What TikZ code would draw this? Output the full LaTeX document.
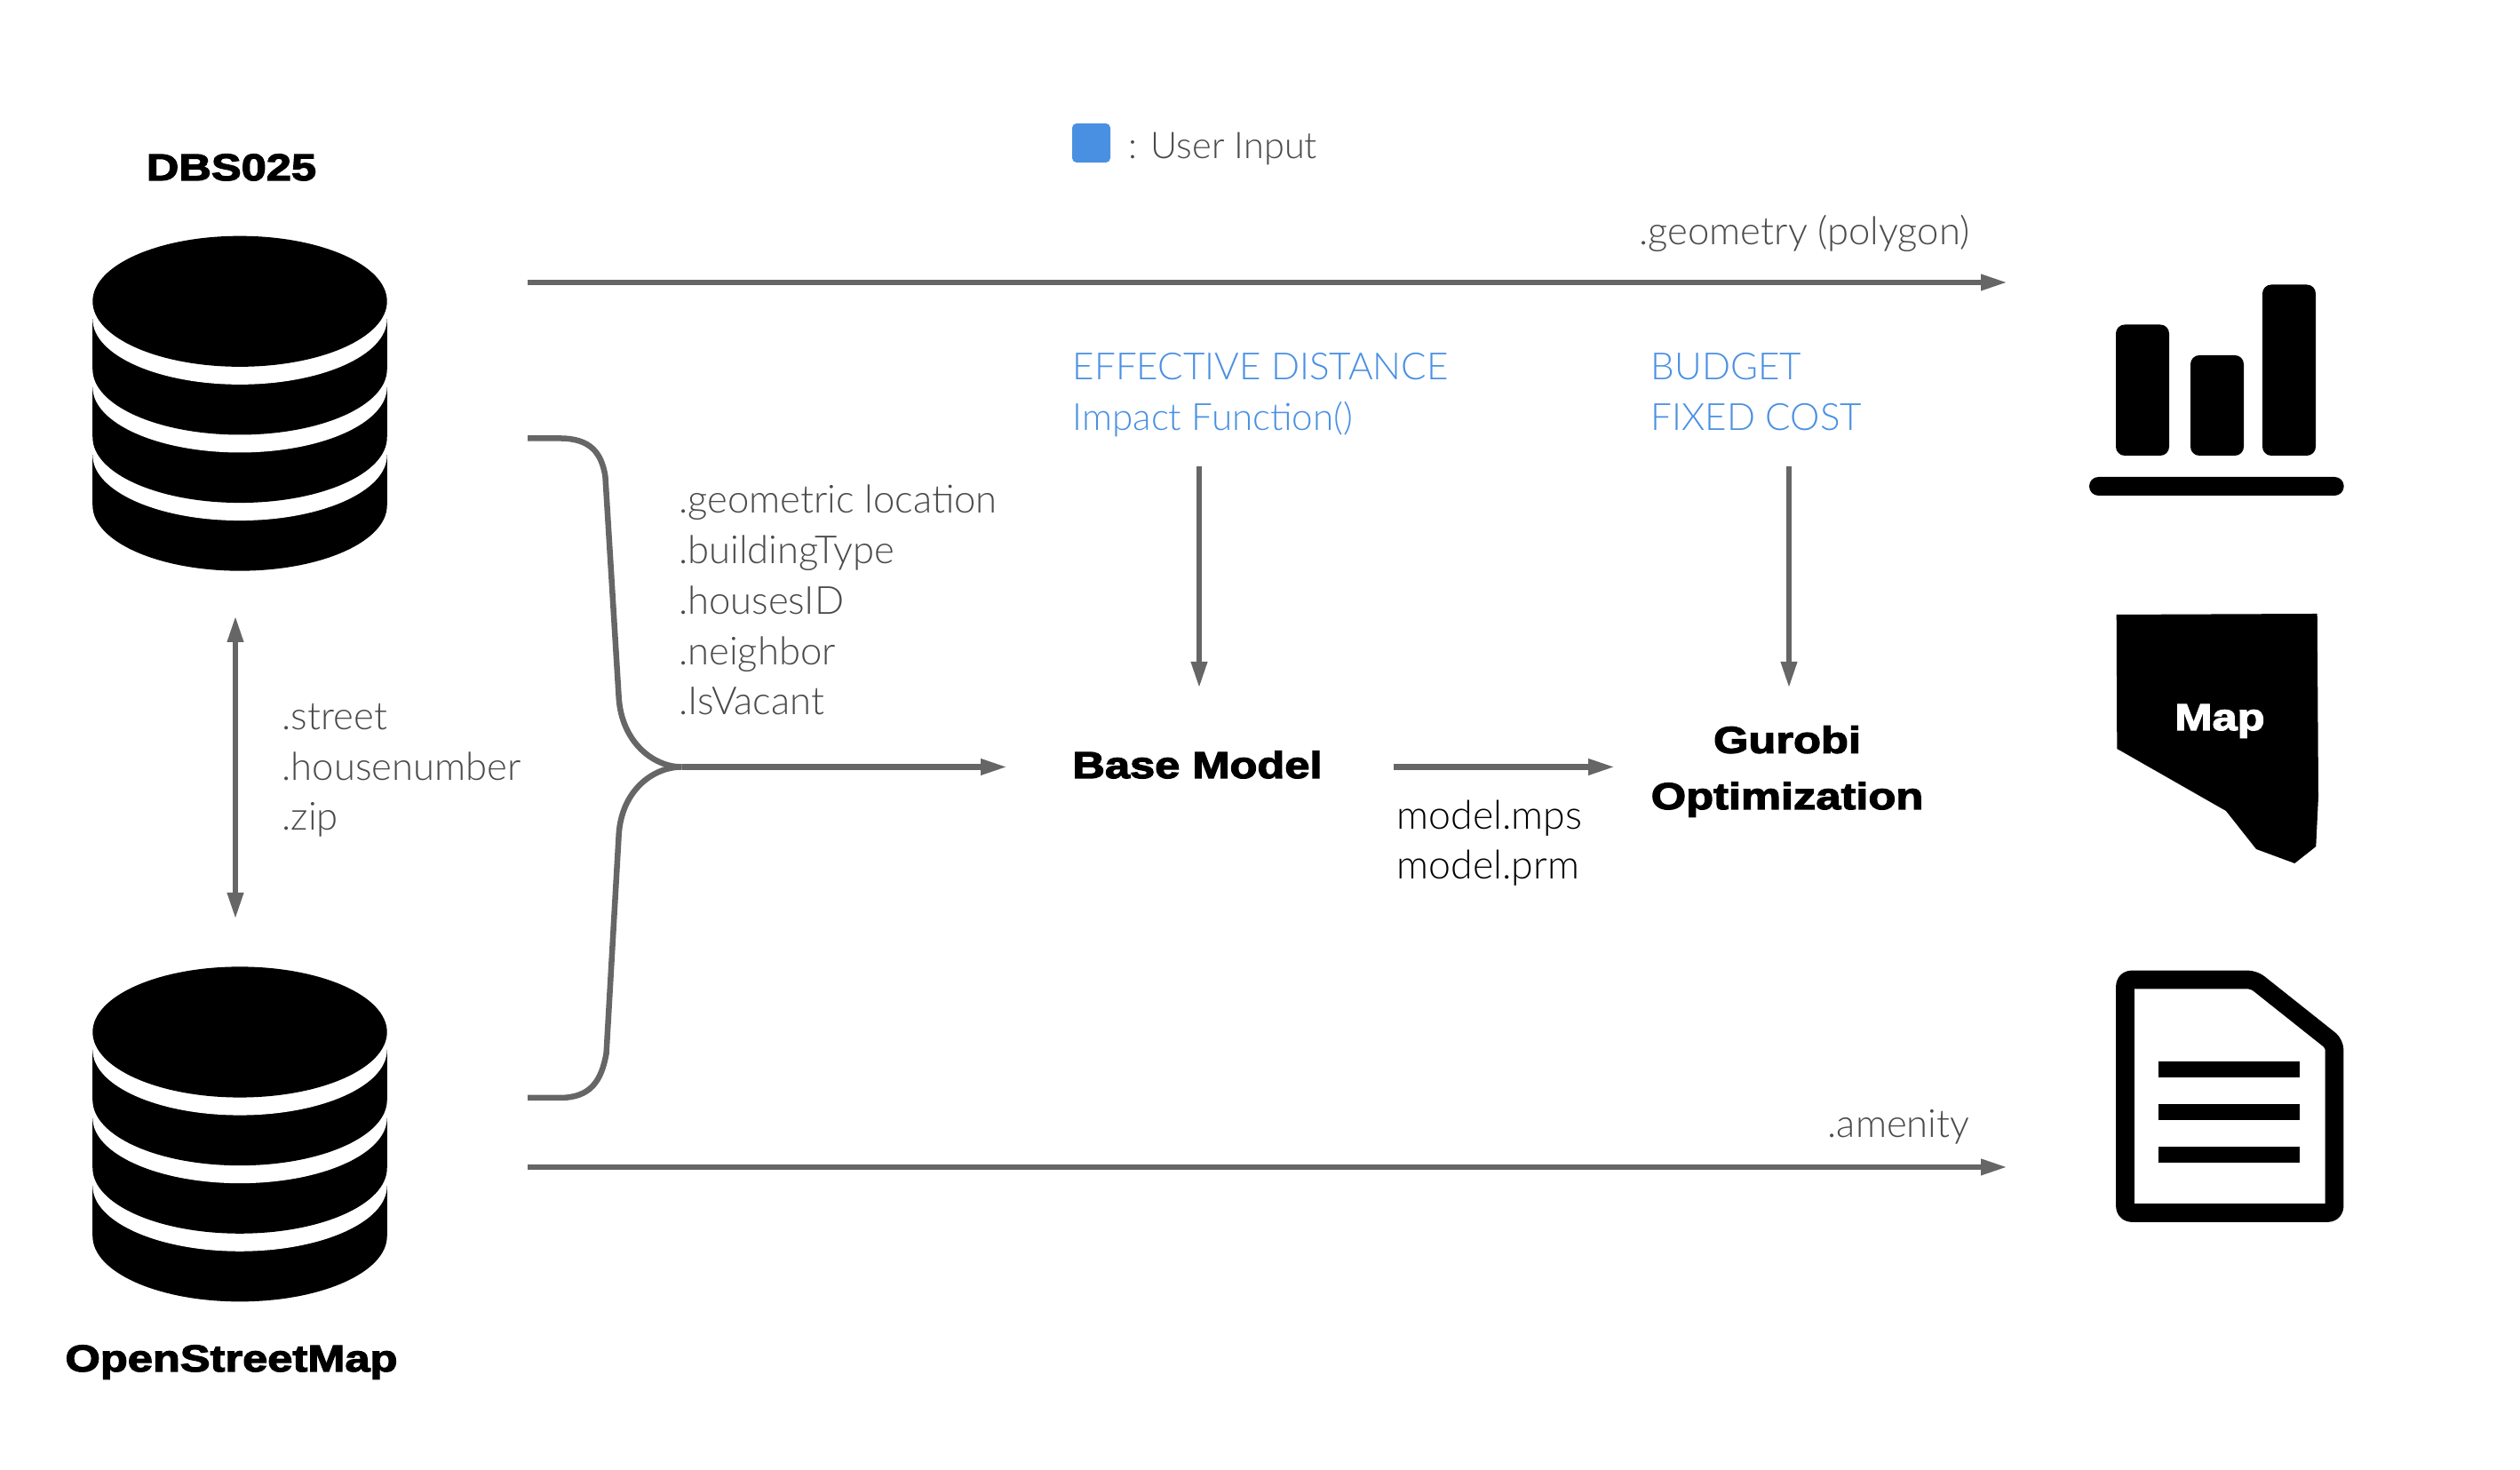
\documentclass[tikz,border=0pt]{standalone}
\usepackage{fontspec}
\usepackage{xcolor}
\setmainfont{Lato Light}
\newfontfamily\heavyfont[FakeBold=3,FakeStretch=1.2]{Liberation Sans Bold}
\usetikzlibrary{arrows.meta,positioning}

\definecolor{linegray}{HTML}{666666}
\definecolor{labelgray}{HTML}{4A4A4A}
\definecolor{inputblue}{HTML}{4A90E2}

\tikzset{
    flow/.style={draw=linegray, line width=0.065cm, -{Triangle[length=0.3cm,width=0.17cm]}},
    attr/.style={text=labelgray, font=\fontsize{12.4}{16.2}\selectfont, align=left, inner sep=0pt},
    userin/.style={attr, text=inputblue, font=\fontsize{12}{16.2}\selectfont},
    heading/.style={font=\heavyfont\fontsize{12}{18}\selectfont, align=center, inner sep=0pt}
}

\newcommand{\dbstack}[2]{%
    \begin{scope}[shift={(#1,#2)}]
        \foreach \k in {3,2,1} {
            \fill (-1.657,{-(\k-1)*0.766-0.2}) rectangle (1.657,{-\k*0.766});
            \fill (0,{-\k*0.766}) ellipse (1.657 and 0.736);
            \fill[white] (0,{-(\k-1)*0.766-0.2}) ellipse (1.657 and 0.736);
        }
        \fill (0,0) ellipse (1.657 and 0.736);
    \end{scope}
}

\begin{document}
\begin{tikzpicture}
    \useasboundingbox (0,0) rectangle (28.37,16.55);

    % Databases
    \dbstack{2.70}{13.157}
    \dbstack{2.70}{4.93}
    \node[heading, anchor=base] (dbs) at (2.605,14.52) {DBS025};
    \node[heading, anchor=base] (osm) at (2.605,1.11) {OpenStreetMap};

    % Legend
    \fill[inputblue, rounded corners=0.05cm] (12.07,14.72) rectangle (12.50,15.16);
    \node[attr, anchor=base west, font=\fontsize{11.8}{16.2}\selectfont] (legend) at (12.70,14.76) {: User Input};

    % Long arrows
    \coordinate (geomfrom) at (5.94,13.37);
    \coordinate (geomto) at (22.60,13.37);
    \coordinate (amenfrom) at (5.94,3.41);
    \coordinate (amento) at (22.60,3.41);
    \draw[flow] (geomfrom) -- (geomto);
    \draw[flow] (amenfrom) -- (amento);
    \node[attr, anchor=base east] (geomlabel) at (22.18,13.79) {.geometry (polygon)};
    \node[attr, anchor=base east] (amenlabel) at (22.18,3.745) {.amenity};

    % Street attributes
    \coordinate (dbtop) at (2.65,9.62);
    \coordinate (dbbot) at (2.65,6.20);
    \draw[flow, {Triangle[length=0.3cm,width=0.17cm]}-{Triangle[length=0.3cm,width=0.17cm]}] (dbtop) -- (dbbot);
    \node[attr, anchor=base west] (streets) at (3.17,7.20) {.street\\.housenumber\\.zip};

    % Brace
    \coordinate (bracejoin) at (7.675,7.915);
    \coordinate (basein) at (11.34,7.915);
    \draw[draw=linegray, line width=0.065cm] (5.94,11.615) -- (6.30,11.615)
        .. controls (6.65,11.615) and (6.77,11.45) .. (6.814,11.19)
        -- (6.967,8.69) .. controls (7.00,8.20) and (7.35,7.915) .. (bracejoin);
    \draw[draw=linegray, line width=0.065cm] (5.94,4.19) -- (6.30,4.19)
        .. controls (6.65,4.19) and (6.77,4.38) .. (6.826,4.69)
        -- (6.967,7.16) .. controls (7.00,7.65) and (7.35,7.915) .. (bracejoin);
    \draw[flow] (bracejoin) -- (basein);
    \node[attr, anchor=base west] (fields) at (7.635,8.50) {.geometric location\\.buildingType\\.housesID\\.neighbor\\.IsVacant};

    % Model
    \node[heading, anchor=base] (base) at (13.48,7.79) {Base Model};
    \node[heading, anchor=base] (gurobi) at (20.12,7.44) {Gurobi\\Optimization};
    \draw[flow, shorten <=0.8cm, shorten >=0.4cm] (base.east |- bracejoin) -- (gurobi.west |- bracejoin);
    \node[attr, text=black, anchor=base west, font=\fontsize{12.7}{16.2}\selectfont] (files) at (15.72,6.65) {model.mps\\model.prm};

    % User inputs
    \node[userin, anchor=base west] (impact) at (12.07,11.705) {EFFECTIVE DISTANCE\\Impact Function()};
    \node[userin, anchor=base west] (budget) at (18.58,11.705) {BUDGET\\FIXED COST};
    \coordinate (impactout) at (13.50,11.30);
    \coordinate (impactin) at (13.50,8.80);
    \coordinate (budgetout) at (20.14,11.30);
    \coordinate (budgetin) at (20.14,8.80);
    \draw[flow] (impactout) -- (impactin);
    \draw[flow] (budgetout) -- (budgetin);

    % Chart icon
    \fill[rounded corners=0.1cm] (23.82,11.42) rectangle (24.42,12.895);
    \fill[rounded corners=0.1cm] (24.66,11.42) rectangle (25.26,12.55);
    \fill[rounded corners=0.1cm] (25.47,11.42) rectangle (26.07,13.345);
    \fill[rounded corners=0.104cm] (23.52,10.97) rectangle (26.387,11.18);

    % Map icon
    \fill (23.827,9.63) -- (26.087,9.64) -- (26.10,7.58) -- (26.073,7.02) -- (25.833,6.83)
        -- (25.40,6.99) -- (25.06,7.42) -- (23.833,8.12) -- cycle;
    \node[heading, text=white, anchor=base] (map) at (24.99,8.33) {Map};

    % Document icon
    \draw[line width=0.207cm, line join=round, rounded corners=0.07cm] (23.925,5.52) -- (25.374,5.52)
        -- (26.28,4.80) -- (26.28,2.895) -- (23.925,2.895) -- cycle;
    \fill (24.30,4.415) rectangle (25.89,4.595);
    \fill (24.30,3.935) rectangle (25.89,4.115);
    \fill (24.30,3.455) rectangle (25.89,3.635);
\end{tikzpicture}
\end{document}
